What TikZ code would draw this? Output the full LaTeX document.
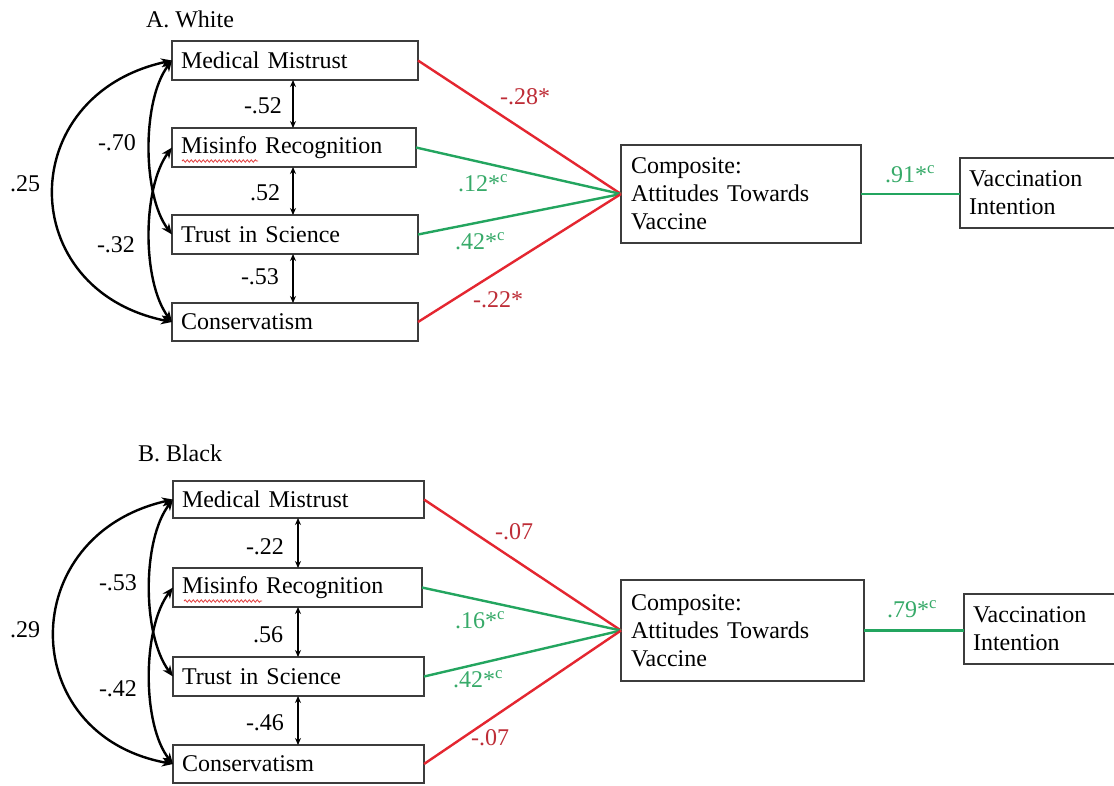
\documentclass[tikz,border=0pt]{standalone}
\usepackage{fontspec}
\setmainfont{Liberation Serif}
\usetikzlibrary{arrows.meta,decorations.pathmorphing,calc}
\definecolor{redline}{RGB}{228,38,48}
\definecolor{redtext}{RGB}{190,45,55}
\definecolor{greenline}{RGB}{35,165,95}
\definecolor{greentext}{RGB}{55,170,105}
\definecolor{boxgray}{RGB}{60,60,60}
\definecolor{spellred}{RGB}{225,60,60}
\begin{document}
\begin{tikzpicture}[x=1pt,y=-1pt,
  every node/.style={font=\fontsize{24}{28}\selectfont},
  box/.style={draw=boxgray, line width=1.6pt, anchor=north west, inner xsep=9pt, inner ysep=0pt, outer sep=0pt, align=left},
  lbl/.style={inner sep=0pt},
  redpath/.style={draw=redline, line width=2.4pt},
  greenpath/.style={draw=greenline, line width=2.4pt},
  cov/.style={draw=black, line width=2.4pt, {Stealth[length=11pt,width=9pt]}-{Stealth[length=11pt,width=9pt]}},
  vcov/.style={draw=black, line width=1.3pt, {Stealth[length=7pt,width=6pt]}-{Stealth[length=7pt,width=6pt]}},
  spell/.style={draw=spellred, line width=0.8pt, decorate, decoration={snake, amplitude=1.2pt, segment length=4pt}}
]
\useasboundingbox[fill=white] (0,0) rectangle (1114,785);

% ---------- Panel A ----------
\node[lbl, anchor=center] (titleA) at (190,19) {A. White};
\node[box, text width=228pt, minimum height=39pt] (mmA) at (172,41) {Medical Mistrust};
\node[box, text width=226pt, minimum height=39pt] (miA) at (172,128) {Misinfo Recognition};
\node[box, text width=228pt, minimum height=39pt] (tsA) at (172,215) {Trust in Science};
\node[box, text width=228pt, minimum height=38pt] (cvA) at (172,303) {Conservatism};
\node[box, inner xsep=10pt, text width=220pt, minimum height=98pt] (compA) at (621,145) {Composite:\\Attitudes Towards\\Vaccine};
\node[box, text width=152pt, minimum height=70pt] (viA) at (960,158) {Vaccination\\Intention};

\draw[spell] (182,161) -- (258,161);

\draw[redpath] (mmA.east) -- (compA.west);
\draw[greenpath] (miA.east) -- (compA.west);
\draw[greenpath] (tsA.east) -- (compA.west);
\draw[redpath] (cvA.east) -- (compA.west);
\draw[greenpath] (compA.east) -- (compA.east -| viA.west);

\coordinate (vxA) at (293,0);
\draw[vcov] (mmA.south -| vxA) -- (miA.north -| vxA);
\draw[vcov] (miA.south -| vxA) -- (tsA.north -| vxA);
\draw[vcov] (tsA.south -| vxA) -- (cvA.north -| vxA);

\draw[cov] (mmA.west) .. controls (14,95) and (14,290) .. (cvA.west);
\draw[cov] (mmA.west) .. controls (142,100) and (142,195) .. (tsA.west);
\draw[cov] (miA.west) .. controls (142,188) and (142,282) .. (cvA.west);

\node[lbl] (a1) at (263,106) {-.52};
\node[lbl] (a2) at (265,193) {.52};
\node[lbl] (a3) at (260,277) {-.53};
\node[lbl] (a4) at (25,184) {.25};
\node[lbl] (a5) at (117,143) {-.70};
\node[lbl] (a6) at (116,245) {-.32};
\node[lbl, text=redtext] (a7) at (525,97) {-.28*};
\node[lbl, text=greentext] (a8) at (483,183) {.12*\textsuperscript{c}};
\node[lbl, text=greentext] (a9) at (480,241) {.42*\textsuperscript{c}};
\node[lbl, text=redtext] (a10) at (498,300) {-.22*};
\node[lbl, text=greentext] (a11) at (910,174) {.91*\textsuperscript{c}};

% ---------- Panel B ----------
\node[lbl, anchor=center] (titleB) at (180,453) {B. Black};
\node[box, text width=233pt, minimum height=37pt] (mmB) at (173,481) {Medical Mistrust};
\node[box, text width=231pt, minimum height=39pt] (miB) at (173,568) {Misinfo Recognition};
\node[box, text width=233pt, minimum height=39pt] (tsB) at (173,657) {Trust in Science};
\node[box, text width=233pt, minimum height=38pt] (cvB) at (173,745) {Conservatism};
\node[box, inner xsep=10pt, text width=223pt, minimum height=101pt] (compB) at (621,580) {Composite:\\Attitudes Towards\\Vaccine};
\node[box, text width=148pt, minimum height=70pt] (viB) at (964,594) {Vaccination\\Intention};

\draw[spell] (184,601) -- (262,601);

\draw[redpath] (mmB.east) -- (compB.west);
\draw[greenpath] (miB.east) -- (compB.west);
\draw[greenpath] (tsB.east) -- (compB.west);
\draw[redpath] (cvB.east) -- (compB.west);
\draw[greenpath] (compB.east) -- (compB.east -| viB.west);

\coordinate (vxB) at (298,0);
\draw[vcov] (mmB.south -| vxB) -- (miB.north -| vxB);
\draw[vcov] (miB.south -| vxB) -- (tsB.north -| vxB);
\draw[vcov] (tsB.south -| vxB) -- (cvB.north -| vxB);

\draw[cov] (mmB.west) .. controls (15,535) and (15,735) .. (cvB.west);
\draw[cov] (mmB.west) .. controls (142,540) and (142,635) .. (tsB.west);
\draw[cov] (miB.west) .. controls (142,628) and (142,725) .. (cvB.west);

\node[lbl] (b1) at (265,547) {-.22};
\node[lbl] (b2) at (268,635) {.56};
\node[lbl] (b3) at (265,723) {-.46};
\node[lbl] (b4) at (25,630) {.29};
\node[lbl] (b5) at (118,583) {-.53};
\node[lbl] (b6) at (118,689) {-.42};
\node[lbl, text=redtext] (b7) at (514,532) {-.07};
\node[lbl, text=greentext] (b8) at (480,620) {.16*\textsuperscript{c}};
\node[lbl, text=greentext] (b9) at (478,679) {.42*\textsuperscript{c}};
\node[lbl, text=redtext] (b10) at (490,738) {-.07};
\node[lbl, text=greentext] (b11) at (912,609) {.79*\textsuperscript{c}};
\end{tikzpicture}
\end{document}
